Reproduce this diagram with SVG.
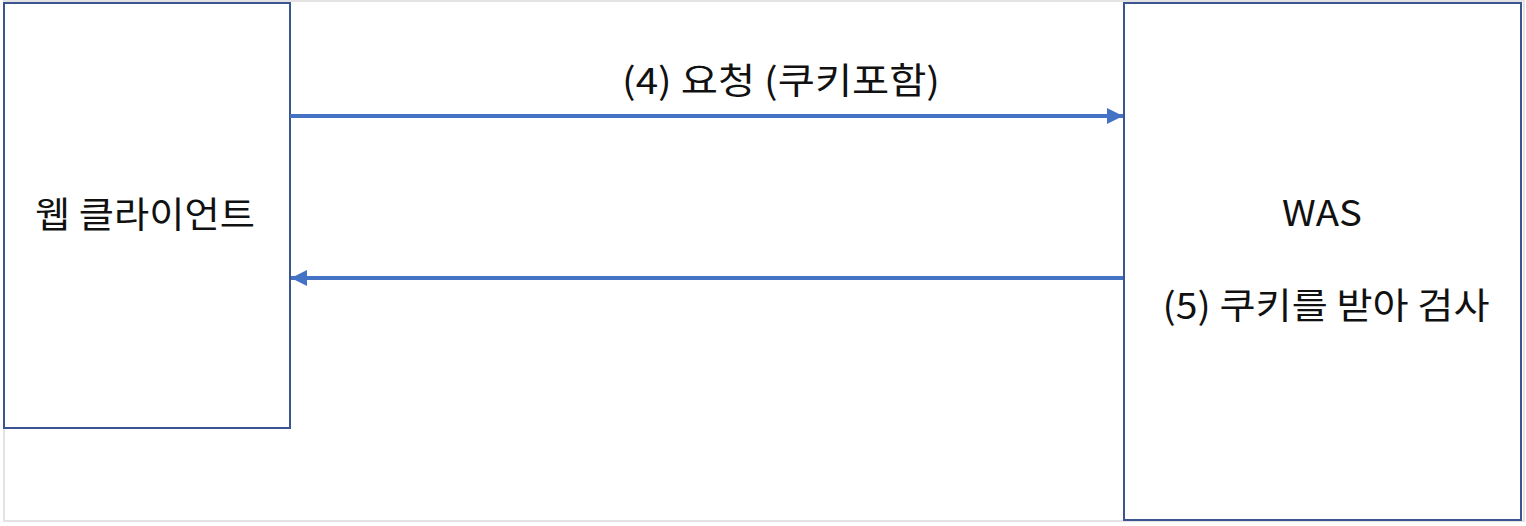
<svg xmlns="http://www.w3.org/2000/svg" width="1526" height="526" viewBox="0 0 1526 526">
<defs>
<style>
.box{fill:#fff;stroke:#3b5590;stroke-width:2}
.lbl{font-family:"Noto Sans CJK KR","Noto Sans",sans-serif;font-size:36px;fill:#111;text-anchor:middle}
.conn{stroke:#4472c4;stroke-width:4;fill:none}
</style>
<marker id="ah" viewBox="0 0 10 10" refX="10" refY="5" markerWidth="4" markerHeight="4" orient="auto" markerUnits="strokeWidth">
<path d="M0,0 L10,5 L0,10 Z" fill="#4472c4"/>
</marker>
</defs>
<rect width="1526" height="526" fill="#fff"/>
<rect x="4" y="1" width="1520" height="520" fill="none" stroke="#e3e3e3" stroke-width="2"/>
<g id="client">
<rect class="box" x="4" y="3" width="286" height="425"/>
<text class="lbl" x="145" y="228" textLength="220" lengthAdjust="spacingAndGlyphs">웹 클라이언트</text>
</g>
<g id="was">
<rect class="box" x="1124" y="3" width="397" height="517"/>
<text class="lbl" x="1322" y="226" textLength="80" lengthAdjust="spacingAndGlyphs">WAS</text>
<text class="lbl" x="1326" y="319" textLength="327" lengthAdjust="spacingAndGlyphs">(5) 쿠키를 받아 검사</text>
</g>
<g id="connectors">
<line class="conn" x1="290" y1="116" x2="1123" y2="116" marker-end="url(#ah)"/>
<line class="conn" x1="1123" y1="278" x2="291" y2="278" marker-end="url(#ah)"/>
<text class="lbl" x="781" y="94" textLength="318" lengthAdjust="spacingAndGlyphs">(4) 요청 (쿠키포함)</text>
</g>
</svg>
